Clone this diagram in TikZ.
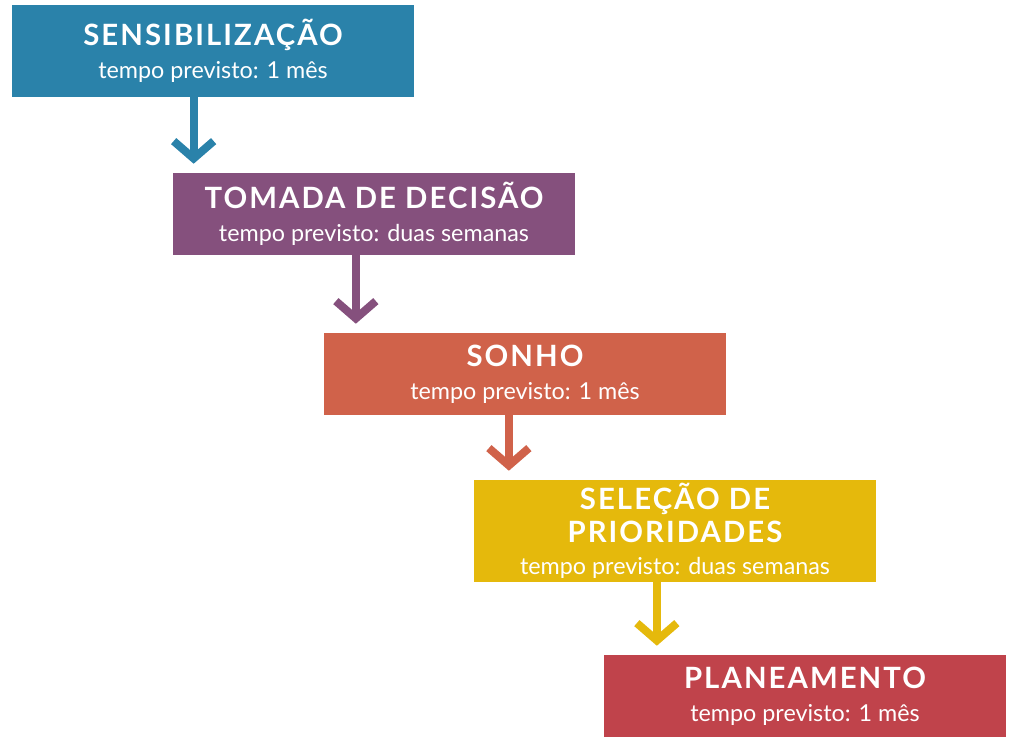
\documentclass[tikz,border=0pt]{standalone}
\usepackage{fontspec}
\setmainfont{Lato}
\usetikzlibrary{arrows.meta,calc,positioning}

\definecolor{azul}{RGB}{42,130,170}
\definecolor{roxo}{RGB}{133,80,125}
\definecolor{laranja}{RGB}{208,98,74}
\definecolor{amarelo}{RGB}{229,185,12}
\definecolor{vermelho}{RGB}{192,67,75}

\newcommand{\titulo}[1]{{\fontsize{22}{24.5}\selectfont\bfseries\addfontfeatures{LetterSpace=7}#1}}
\newcommand{\prazo}[1]{{\fontsize{17.5}{24.5}\selectfont #1}}

\tikzset{
  etapa/.style={rectangle, fill=#1, text=white, align=center,
    font=\fontsize{17.5}{24.5}\selectfont,
    minimum width=302pt, minimum height=61pt, inner sep=0pt},
  seta/.style={draw=#1, line width=6pt, line join=miter,
    -{Straight Barb[length=13pt,width=30pt]}, shorten >=7pt}
}

\begin{document}
\begin{tikzpicture}[x=0.75pt,y=-0.75pt]
  \useasboundingbox (0,0) rectangle (1010,741);
  % etapas
  \node[etapa=azul, minimum height=69pt] (sens) at (213,51)
    {\titulo{SENSIBILIZAÇÃO}\\\prazo{tempo previsto: 1 mês}};
  \node[etapa=roxo] (decisao) at (374,214)
    {\titulo{TOMADA DE DECISÃO}\\\prazo{tempo previsto: duas semanas}};
  \node[etapa=laranja] (sonho) at (525,374)
    {\titulo{SONHO}\\\prazo{tempo previsto: 1 mês}};
  \node[etapa=amarelo, minimum height=76pt] (selecao) at (675,531)
    {\titulo{SELEÇÃO DE}\\\titulo{PRIORIDADES}\\\prazo{tempo previsto: duas semanas}};
  \node[etapa=vermelho] (plano) at (805,696)
    {\titulo{PLANEAMENTO}\\\prazo{tempo previsto: 1 mês}};
  % setas
  \draw[seta=azul] ($(sens.south west)!0.452!(sens.south east)$) coordinate (s1)
    -- (s1 |- decisao.north);
  \draw[seta=roxo] ($(decisao.south west)!0.455!(decisao.south east)$) coordinate (s2)
    -- (s2 |- sonho.north);
  \draw[seta=laranja] ($(sonho.south west)!0.46!(sonho.south east)$) coordinate (s3)
    -- (s3 |- selecao.north);
  \draw[seta=amarelo] ($(selecao.south west)!0.455!(selecao.south east)$) coordinate (s4)
    -- (s4 |- plano.north);
\end{tikzpicture}
\end{document}
